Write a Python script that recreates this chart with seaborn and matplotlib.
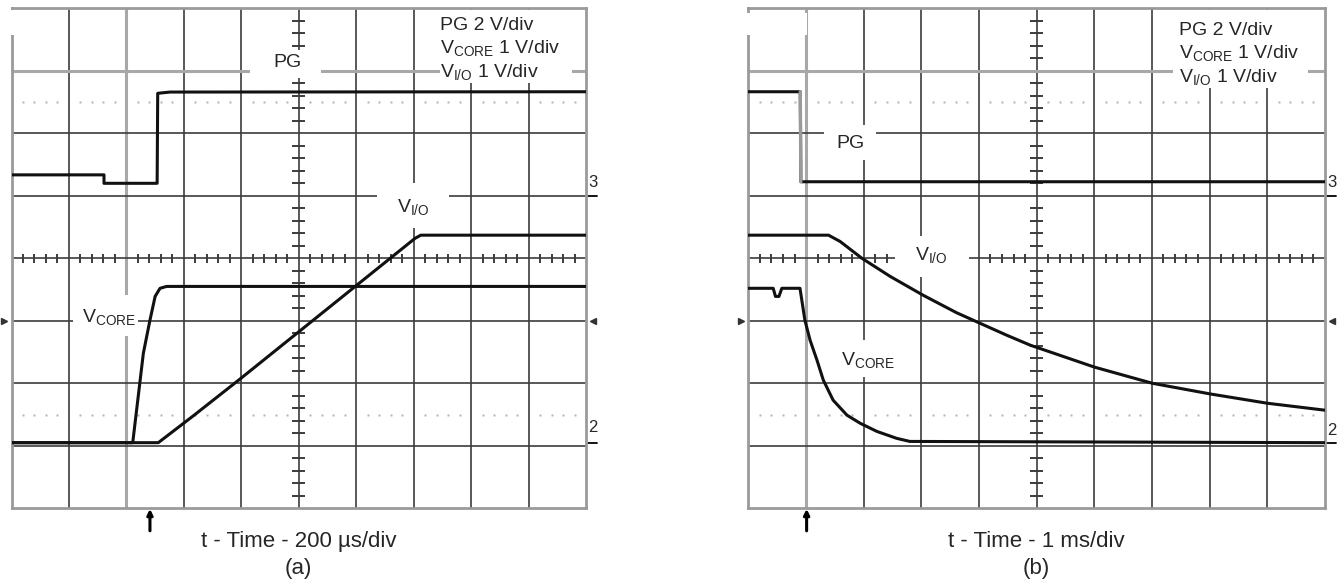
import numpy as np
import pandas as pd
import matplotlib
matplotlib.use("Agg")
import matplotlib.pyplot as plt
from matplotlib.patches import Rectangle
import seaborn as sns

# scope settings: PG 2 V/div (ground at div 5), Vcore / Vio 1 V/div (ground at div 1.05)
pg_vdiv, pg_gnd = 2.0, 5.0
v_vdiv, v_gnd = 1.0, 1.05

# (a) power up, 200 us/div, time in us
t_pg_a = [0, 322, 322, 507, 509, 552, 2000]
v_pg_a = [0.67, 0.67, 0.40, 0.40, 3.28, 3.32, 3.33]
t_core_a = [0, 422, 459, 482, 500, 517, 540, 2000]
v_core_a = [0.0, 0.0, 1.43, 1.96, 2.34, 2.47, 2.50, 2.50]
t_io_a = [0, 511, 633, 796, 1405, 1425, 2000]
v_io_a = [0.0, 0.0, 0.43, 1.02, 3.27, 3.32, 3.32]

# (b) power down, 1 ms/div, time in ms
t_pg_b = [0, 0.90, 0.91, 10]
v_pg_b = [3.33, 3.33, 0.45, 0.45]
t_core_b = [0, 0.43, 0.47, 0.53, 0.58, 0.64, 0.895, 0.98, 1.07, 1.19, 1.30, 1.47, 1.71,
            1.94, 2.23, 2.57, 2.80, 10]
v_core_b = [2.47, 2.47, 2.34, 2.34, 2.47, 2.47, 2.47, 1.96, 1.64, 1.32, 1.00, 0.68, 0.44,
            0.31, 0.18, 0.07, 0.02, 0.0]
t_io_b = [0, 1.39, 1.59, 1.97, 2.46, 3.03, 3.61, 4.02, 4.48, 4.89, 6.0, 7.01, 8.01, 9.01, 10]
v_io_b = [3.32, 3.32, 3.22, 2.95, 2.66, 2.36, 2.08, 1.91, 1.72, 1.56, 1.21, 0.95, 0.78, 0.63, 0.52]

xlabel_a = "t - Time - 200 µs/div"
xlabel_b = "t - Time - 1 ms/div"
scale_lines = ["PG 2 V/div", "V$_{CORE}$ 1 V/div", "V$_{I/O}$ 1 V/div"]

sns.set_style("white")
plt.rcParams['font.family'] = ['Liberation Sans', 'DejaVu Sans']
plt.rcParams['mathtext.default'] = 'regular'

GRID = '#3c3c3c'
LIGHT = '#a8a8a8'


def trace_df(t, v, vdiv, gnd):
    df = pd.DataFrame({'t': t, 'v': v})
    df['div'] = gnd + df['v'] / vdiv
    return df


def white_box(ax, tdiv, x0, x1, y0, y1):
    ax.add_patch(Rectangle((x0 * tdiv, y0), (x1 - x0) * tdiv, y1 - y0,
                           facecolor='white', edgecolor='none', zorder=3, clip_on=False))


def draw_panel(ax, tdiv, traces, light_v, trig, gnd2_txt, xlabel, tag, scale_xy, labels, boxes,
               corner, grey_edge=None):
    ax.set_xlim(0, 10 * tdiv)
    ax.set_ylim(0, 8)
    ax.set_xticks([])
    ax.set_yticks([])
    for s in ax.spines.values():
        s.set_color('#9a9a9a')
        s.set_linewidth(2)

    # graticule
    for i in range(1, 10):
        c, w = (LIGHT, 2.2) if i == light_v else (GRID, 1.2)
        ax.axvline(i * tdiv, color=c, lw=w, zorder=1)
    for j in range(1, 8):
        c, w = (LIGHT, 2.2) if j == 7 else (GRID, 1.2)
        ax.axhline(j, color=c, lw=w, zorder=1)
    fine = np.round(np.arange(0.2, 10, 0.2), 2)
    fine = fine[np.abs(fine - np.round(fine)) > 0.01]
    fine_y = fine[fine < 8]
    ax.hlines(fine_y, (5 - 0.11) * tdiv, (5 + 0.11) * tdiv, color=GRID, lw=1.4, zorder=1)
    ax.vlines(fine * tdiv, 4 - 0.07, 4 + 0.07, color=GRID, lw=1.4, zorder=1)
    for yd in (1.5, 6.5):
        ax.plot(fine * tdiv, np.full(len(fine), yd), ls='none', marker='s', ms=1.5,
                color='#b5b5b5', mec='none', zorder=1)

    # label boxes drawn under the traces
    for b in boxes:
        white_box(ax, tdiv, *b)
    white_box(ax, tdiv, *corner)

    for df in traces:
        sns.lineplot(data=df, x='t', y='div', ax=ax, color='#111111', lw=2.2,
                     sort=False, estimator=None, zorder=4)
    if grey_edge is not None:
        k, i0, i1 = grey_edge
        seg = traces[k].iloc[i0:i1 + 1]
        ax.plot(seg['t'], seg['div'], color='#9a9a9a', lw=2.4, zorder=5)
    ax.set_xlabel('')
    ax.set_ylabel('')

    sx, sy = scale_xy
    for k, s in enumerate(scale_lines):
        ax.text(sx * tdiv, sy[k], s, fontsize=14, ha='left', va='center', zorder=6)
    for s, x, y in labels:
        ax.text(x * tdiv, y, s, fontsize=14, ha='center', va='center', zorder=6)

    # channel ground markers and trigger level marks
    ax.text(10.04 * tdiv, pg_gnd + 0.22, '3', fontsize=12, ha='left', va='center', clip_on=False)
    ax.plot([10.03 * tdiv, 10.2 * tdiv], [pg_gnd, pg_gnd], color='k', lw=1.3, clip_on=False)
    ax.text(10.04 * tdiv, gnd2_txt, '2', fontsize=12, ha='left', va='center', clip_on=False)
    ax.plot([10.03 * tdiv, 10.2 * tdiv], [v_gnd, v_gnd], color='k', lw=1.3, clip_on=False)
    ax.plot([-0.13 * tdiv], [3], marker='>', ms=4, color='#333333', clip_on=False)
    ax.plot([10.12 * tdiv], [3], marker='<', ms=4, color='#333333', clip_on=False)
    ax.annotate('', xy=(trig, -0.01), xytext=(trig, -0.36),
                arrowprops=dict(arrowstyle='-|>', color='k', lw=2.2, mutation_scale=8,
                                shrinkA=0, shrinkB=0), annotation_clip=False)

    ax.text(0.5, -0.066, xlabel, transform=ax.transAxes, fontsize=16, ha='center', va='center')
    ax.text(0.5, -0.12, tag, transform=ax.transAxes, fontsize=16, ha='center', va='center')


fig = plt.figure(figsize=(13.4, 5.82), dpi=100)
ax_a = fig.add_axes([11.5 / 1340, 73.7 / 582, 574.5 / 1340, 500 / 582])
ax_b = fig.add_axes([748.4 / 1340, 73.7 / 582, 576.4 / 1340, 500 / 582])

draw_panel(ax_a, 200,
           [trace_df(t_pg_a, v_pg_a, pg_vdiv, pg_gnd),
            trace_df(t_core_a, v_core_a, v_vdiv, v_gnd),
            trace_df(t_io_a, v_io_a, v_vdiv, v_gnd)],
           light_v=2, trig=482, gnd2_txt=1.3, xlabel=xlabel_a, tag='(a)',
           scale_xy=(7.46, [7.73, 7.37, 6.98]),
           labels=[('PG', 4.81, 7.14), ('V$_{I/O}$', 6.99, 4.82), ('V$_{CORE}$', 1.70, 3.06)],
           boxes=[(4.15, 5.39, 6.88, 7.33), (6.36, 7.61, 4.48, 5.2), (1.065, 2.21, 2.75, 3.41),
                  (7.45, 9.75, 6.8, 7.97)],
           corner=(-0.03, 0.98, 7.57, 7.97))

draw_panel(ax_b, 1,
           [trace_df(t_pg_b, v_pg_b, pg_vdiv, pg_gnd),
            trace_df(t_core_b, v_core_b, v_vdiv, v_gnd),
            trace_df(t_io_b, v_io_b, v_vdiv, v_gnd)],
           light_v=1, trig=1.01, gnd2_txt=1.25, xlabel=xlabel_b, tag='(b)',
           scale_xy=(7.47, [7.65, 7.29, 6.9]),
           labels=[('PG', 1.78, 5.84), ('V$_{I/O}$', 3.18, 4.06), ('V$_{CORE}$', 2.08, 2.37)],
           boxes=[(1.31, 2.22, 5.57, 6.13), (2.55, 3.82, 3.70, 4.35), (1.55, 2.6, 2.1, 2.69),
                  (7.36, 9.71, 6.72, 7.97)],
           corner=(-0.03, 1.02, 7.57, 7.93),
           grey_edge=(0, 1, 2))

fig.savefig('out.png', dpi=100)
